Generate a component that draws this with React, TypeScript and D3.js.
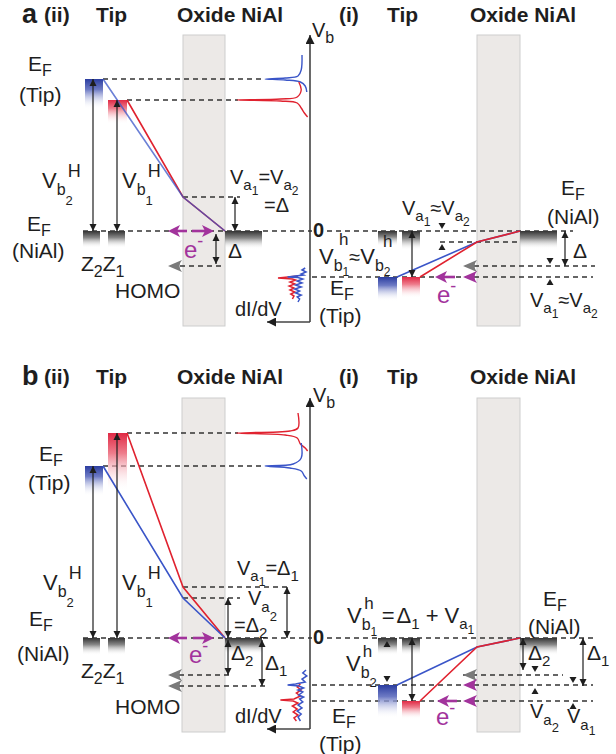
import React from "react";
import * as d3 from "d3";

const W = 616;
const H = 754;
const FONT = "'Liberation Sans', Arial, Helvetica, sans-serif";
const INK = "#1e1e1e";
const BLUE = "#3a55c8";
const RED = "#e0222f";
const MAG = "#a2339c";
const OX = "#ece9e7";

// energies in V, 0 = E_F(NiAl); index 0 = Z2 (blue), index 1 = Z1 (red)
const aTipII = [1.52, 1.31];
const aBendII = [0.34, 0.34];
const aHomo = [-0.35];
const aTipI = [-0.46, -0.46];
const aBendI = [-0.11, -0.11];

const bTipII = [1.72, 2.05];
const bBendII = [0.4, 0.51];
const bHomo = [-0.37, -0.48];
const bTipI = [-0.47, -0.63];
const bBendI = [-0.09, -0.09];

// dI/dV spectra: [energy, dI/dV]
const aSpecBlue = [[1.76, 0.1], [1.61, 0.11], [1.55, 0.15], [1.53, 0.31], [1.52, 0.56], [1.51, 0.31], [1.49, 0.12], [1.45, 0.06], [1.39, 0.04]];
const aSpecRed = [[1.49, 0.14], [1.41, 0.11], [1.34, 0.16], [1.32, 0.37], [1.31, 0.91], [1.3, 0.37], [1.28, 0.16], [1.23, 0.11], [1.18, 0.07], [1.14, 0.03]];
const bSpecRed = [[2.25, 0.15], [2.1, 0.15], [2.07, 0.25], [2.05, 0.92], [2.03, 0.31], [2.0, 0.16], [1.94, 0.12], [1.9, 0.06], [1.87, 0.03]];
const bSpecBlue = [[1.95, 0.11], [1.8, 0.11], [1.74, 0.21], [1.72, 0.56], [1.7, 0.25], [1.67, 0.11], [1.62, 0.07], [1.59, 0.04]];

const aNoiseBlue = [[-0.37, 0.06], [-0.39, 0.1], [-0.41, 0.05], [-0.43, 0.11], [-0.44, 0.08], [-0.45, 0.18], [-0.46, 0.28], [-0.465, 0.15], [-0.48, 0.09], [-0.5, 0.16], [-0.52, 0.1], [-0.54, 0.18], [-0.56, 0.11], [-0.58, 0.19], [-0.6, 0.13], [-0.62, 0.18], [-0.64, 0.11], [-0.66, 0.16], [-0.68, 0.13], [-0.71, 0.15]];
const aNoiseRed = [[-0.45, 0.15], [-0.47, 0.4], [-0.48, 0.22], [-0.49, 0.18], [-0.51, 0.25], [-0.53, 0.19], [-0.55, 0.26], [-0.57, 0.2], [-0.59, 0.25], [-0.61, 0.19], [-0.63, 0.24], [-0.65, 0.2], [-0.68, 0.22]];
const bNoiseBlue = [[-0.32, 0.05], [-0.35, 0.09], [-0.38, 0.04], [-0.41, 0.1], [-0.44, 0.06], [-0.46, 0.18], [-0.47, 0.28], [-0.48, 0.14], [-0.5, 0.08], [-0.52, 0.15], [-0.54, 0.09], [-0.57, 0.14], [-0.59, 0.08], [-0.61, 0.13], [-0.64, 0.09], [-0.67, 0.15], [-0.7, 0.1], [-0.73, 0.16], [-0.76, 0.11], [-0.79, 0.15], [-0.83, 0.12]];
const bNoiseRed = [[-0.46, 0.12], [-0.49, 0.16], [-0.52, 0.11], [-0.55, 0.17], [-0.58, 0.12], [-0.61, 0.2], [-0.62, 0.37], [-0.63, 0.21], [-0.65, 0.15], [-0.68, 0.22], [-0.71, 0.16], [-0.74, 0.21], [-0.77, 0.15], [-0.8, 0.2], [-0.83, 0.17]];

// scales
const yA = d3.scaleLinear().domain([0, 1]).range([231, 131]);
const yB = d3.scaleLinear().domain([0, 1]).range([638, 538]);
const AX = 310;
const xS = d3.scaleLinear().domain([0, 1]).range([AX, AX - 80]);

const smooth = (y: any) =>
  d3.line<number[]>().x((d) => xS(d[1])).y((d) => y(d[0])).curve(d3.curveCatmullRom.alpha(0.5));
const rough = (y: any) => d3.line<number[]>().x((d) => xS(d[1])).y((d) => y(d[0]));
const poly = d3.line();

type Part = [string, number, number, number?];
const N = (t: string, fs = 21, dx = 0): Part => [t, fs, 0, dx];
const S = (t: string, off = 6, fs = 15): Part => [t, fs, off];
const SS = (t: string, off = 12, fs = 12): Part => [t, fs, off];
const SUP = (t: string, dx = 0, off = -11, fs = 17): Part => [t, fs, off, dx];

function F({ x, y, parts, fill = INK }: any) {
  let cur = 0;
  return (
    <text x={x} y={y} fill={fill}>
      {parts.map((p: Part, i: number) => {
        const dy = p[2] - cur;
        cur = p[2];
        return (
          <tspan key={i} fontSize={p[1]} dy={dy} dx={p[3] || 0}>
            {p[0]}
          </tspan>
        );
      })}
    </text>
  );
}

const T = ({ x, y, t, fs = 21, bold = false, fill = INK }: any) => (
  <text x={x} y={y} fontSize={fs} fontWeight={bold ? 700 : 400} fill={fill}>
    {t}
  </text>
);

const Dash = ({ x1, x2, y }: any) => (
  <line x1={x1} x2={x2} y1={y} y2={y} stroke="#333" strokeWidth={1.3} strokeDasharray="5,4" />
);
const DArrow = ({ x, y1, y2 }: any) => (
  <line x1={x} x2={x} y1={y1} y2={y2} stroke={INK} strokeWidth={1.2} markerStart="url(#ah)" markerEnd="url(#ah)" />
);
const Tri = ({ x, y, up }: any) => (
  <path
    d={up ? `M${x - 3.5},${y + 6}L${x + 3.5},${y + 6}L${x},${y}Z` : `M${x - 3.5},${y - 6}L${x + 3.5},${y - 6}L${x},${y}Z`}
    fill={INK}
  />
);
const Peak = ({ x, y, fill }: any) => (
  <path d={`M${x},${y}L${x + 14},${y - 6}Q${x + 9},${y} ${x + 14},${y + 6}Z`} fill={fill} />
);
const MagLeft = ({ x1, x2, y }: any) => (
  <g>
    <line x1={x1 + 6} x2={x2} y1={y} y2={y} stroke={MAG} strokeWidth={2.6} />
    <path d={`M${x1},${y}L${x1 + 12},${y - 6}L${x1 + 9},${y}L${x1 + 12},${y + 6}Z`} fill={MAG} />
  </g>
);
const MagRight = ({ x1, x2, y }: any) => (
  <g>
    <line x1={x1} x2={x2 - 6} y1={y} y2={y} stroke={MAG} strokeWidth={2.6} />
    <path d={`M${x2},${y}L${x2 - 12},${y - 6}L${x2 - 9},${y}L${x2 - 12},${y + 6}Z`} fill={MAG} />
  </g>
);
const Block = ({ x1, x2, y, h, fill }: any) => <rect x={x1} y={y} width={x2 - x1} height={h} fill={fill} />;

function Axis({ top, bottom }: any) {
  return (
    <g>
      <line x1={AX} x2={AX} y1={bottom} y2={top} stroke="#444" strokeWidth={1.6} markerEnd="url(#ax)" />
      <line x1={AX} x2={267} y1={bottom} y2={bottom} stroke="#444" strokeWidth={1.6} markerEnd="url(#ax)" />
    </g>
  );
}

function Headers({ y, letter }: any) {
  return (
    <g>
      <T x={22} y={y + 1} t={letter} fs={27} bold />
      <T x={44} y={y} t="(ii)" fs={21} bold />
      <T x={96} y={y} t="Tip" fs={21} bold />
      <T x={177} y={y} t="Oxide NiAl" fs={21} bold />
      <T x={339} y={y} t="(i)" fs={21} bold />
      <T x={387} y={y} t="Tip" fs={21} bold />
      <T x={470} y={y} t="Oxide NiAl" fs={21} bold />
    </g>
  );
}

function PanelA() {
  const y = yA;
  const z = y(0);
  return (
    <g>
      <Headers y={22} letter="a" />
      <rect x={183} y={35} width={42} height={291} fill={OX} stroke="#cdcdcd" />
      <rect x={477} y={35} width={43} height={291} fill={OX} stroke="#cdcdcd" />
      <Axis top={35} bottom={322} />
      <F x={312} y={37} parts={[N("V", 20), S("b", 6, 16)]} />

      {/* (ii) */}
      <Dash x1={103} x2={265} y={y(aTipII[0])} />
      <Dash x1={127} x2={238} y={y(aTipII[1])} />
      <Dash x1={183} x2={240} y={y(aBendII[0])} />
      <Dash x1={83} x2={312} y={z} />
      <Dash x1={180} x2={225} y={y(aHomo[0])} />
      <Block x1={85} x2={103} y={y(aTipII[0])} h={30} fill="url(#gBlue)" />
      <Block x1={108} x2={127} y={y(aTipII[1])} h={24} fill="url(#gRed)" />
      <Block x1={83} x2={100} y={z} h={17} fill="url(#gGray)" />
      <Block x1={108} x2={125} y={z} h={17} fill="url(#gGray)" />
      <Block x1={225} x2={262} y={z} h={18} fill="url(#gGray)" />
      <path d={poly([[127, y(aTipII[1])], [183, y(aBendII[1])], [225, z]]) || ""} fill="none" stroke={RED} strokeWidth={1.6} />
      <path d={poly([[103, y(aTipII[0])], [183, y(aBendII[0])], [225, z]]) || ""} fill="none" stroke={BLUE} strokeWidth={1.6} strokeOpacity={0.75} />
      <DArrow x={93} y1={y(aTipII[0])} y2={z} />
      <DArrow x={117} y1={y(aTipII[1])} y2={z} />
      <DArrow x={235} y1={y(aBendII[0])} y2={z} />
      <DArrow x={216} y1={z + 3} y2={y(aHomo[0]) - 2} />
      <Peak x={168} y={y(aHomo[0])} fill="#7a7a7a" />
      <MagLeft x1={168} x2={187} y={z} />
      <MagRight x1={192} x2={214} y={z} />
      <path d={smooth(y)(aSpecBlue) || ""} fill="none" stroke={BLUE} strokeWidth={1.4} />
      <path d={smooth(y)(aSpecRed) || ""} fill="none" stroke={RED} strokeWidth={1.4} />
      <path d={rough(y)(aNoiseRed) || ""} fill="none" stroke={RED} strokeWidth={1.5} />
      <path d={rough(y)(aNoiseBlue) || ""} fill="none" stroke={BLUE} strokeWidth={1.5} />

      <F x={28} y={71} parts={[N("E", 21), S("F", 5, 16)]} />
      <T x={19} y={102} t="(Tip)" />
      <F x={42} y={188} parts={[N("V", 22), S("b", 7, 16), SS("2", 17, 13), SUP("H", -5, -11, 18)]} />
      <F x={122} y={188} parts={[N("V", 22), S("b", 7, 16), SS("1", 17, 13), SUP("H", -5, -11, 18)]} />
      <F x={230} y={184} parts={[N("V", 20), S("a", 6, 15), SS("1", 11, 12), N("=", 20), N("V", 20), S("a", 6, 15), SS("2", 11, 12)]} />
      <T x={264} y={212} t="=Δ" fs={20} />
      <F x={27} y={231} parts={[N("E", 21), S("F", 5, 16)]} />
      <T x={12} y={258} t="(NiAl)" />
      <F x={81} y={271} parts={[N("Z", 21), S("2", 6, 16), N("Z", 21), S("1", 6, 16)]} />
      <T x={115} y={298} t="HOMO" />
      <F x={184} y={258} fill={MAG} parts={[N("e", 24), SUP("-", 0, -11, 18)]} />
      <T x={228} y={258} t="Δ" />
      <T x={235} y={316} t="dI/dV" fs={20} />
      <T x={313} y={237} t="0" fs={20} bold />

      {/* (i) */}
      <Dash x1={327} x2={573} y={z} />
      <Dash x1={440} x2={520} y={y(aBendI[0])} />
      <Dash x1={465} x2={595} y={y(aHomo[0])} />
      <Dash x1={312} x2={593} y={y(aTipI[0])} />
      <Block x1={378} x2={397} y={z} h={15} fill="url(#gGray)" />
      <Block x1={402} x2={420} y={z} h={19} fill="url(#gGray)" />
      <Block x1={378} x2={397} y={y(aTipI[0])} h={24} fill="url(#gBlue)" />
      <Block x1={402} x2={420} y={y(aTipI[1])} h={21} fill="url(#gRed)" />
      <Block x1={520} x2={557} y={z} h={18} fill="url(#gGray)" />
      <path d={poly([[397, y(aTipI[0])], [477, y(aBendI[0])], [520, z]]) || ""} fill="none" stroke={BLUE} strokeWidth={1.6} />
      <path d={poly([[420, y(aTipI[1])], [477, y(aBendI[1])], [520, z]]) || ""} fill="none" stroke={RED} strokeWidth={1.6} />
      <DArrow x={412} y1={z} y2={y(aTipI[1])} />
      <DArrow x={565} y1={z} y2={y(aHomo[0])} />
      <Tri x={442} y={z - 2} />
      <Tri x={442} y={y(aBendI[0]) + 2} up />
      <Tri x={550} y={y(aHomo[0]) - 2} />
      <Tri x={550} y={y(aTipI[0]) + 2} up />
      <Peak x={463} y={y(aHomo[0])} fill="#7a7a7a" />
      <Peak x={463} y={y(aTipI[0])} fill={MAG} />
      <MagLeft x1={435} x2={455} y={y(aTipI[0])} />

      <F x={402} y={215} parts={[N("V", 20), S("a", 6, 15), SS("1", 11, 12), N("≈", 20), N("V", 20), S("a", 6, 15), SS("2", 11, 12)]} />
      <T x={339} y={245} t="h" fs={17} />
      <T x={383} y={247} t="h" fs={17} />
      <F x={319} y={264} parts={[N("V", 22), S("b", 7, 16), SS("1", 12, 12), N("≈", 20), N("V", 22), S("b", 7, 16), SS("2", 12, 12)]} />
      <F x={330} y={295} parts={[N("E", 21), S("F", 5, 16)]} />
      <T x={319} y={323} t="(Tip)" />
      <F x={437} y={303} fill={MAG} parts={[N("e", 24), SUP("-", 0, -11, 18)]} />
      <F x={561} y={195} parts={[N("E", 21), S("F", 5, 16)]} />
      <T x={547} y={224} t="(NiAl)" />
      <T x={573} y={258} t="Δ" />
      <F x={530} y={307} parts={[N("V", 20), S("a", 6, 15), SS("1", 11, 12), N("≈", 20), N("V", 20), S("a", 6, 15), SS("2", 11, 12)]} />
    </g>
  );
}

function PanelB() {
  const y = yB;
  const z = y(0);
  return (
    <g>
      <Headers y={384} letter="b" />
      <rect x={182} y={398} width={43} height={334} fill={OX} stroke="#cdcdcd" />
      <rect x={477} y={398} width={43} height={334} fill={OX} stroke="#cdcdcd" />
      <Axis top={398} bottom={729} />
      <F x={313} y={402} parts={[N("V", 20), S("b", 6, 16)]} />

      {/* (ii) */}
      <Dash x1={127} x2={238} y={y(bTipII[1])} />
      <Dash x1={103} x2={265} y={y(bTipII[0])} />
      <Dash x1={183} x2={287} y={y(bBendII[1])} />
      <Dash x1={183} x2={240} y={y(bBendII[0])} />
      <Dash x1={83} x2={312} y={z} />
      <Dash x1={170} x2={230} y={y(bHomo[0])} />
      <Dash x1={170} x2={268} y={y(bHomo[1])} />
      <Block x1={85} x2={103} y={y(bTipII[0])} h={30} fill="url(#gBlue)" />
      <Block x1={108} x2={127} y={y(bTipII[1])} h={58} fill="url(#gRed)" />
      <Block x1={83} x2={100} y={z} h={17} fill="url(#gGray)" />
      <Block x1={108} x2={125} y={z} h={17} fill="url(#gGray)" />
      <Block x1={225} x2={262} y={z} h={16} fill="url(#gGray)" />
      <path d={poly([[127, y(bTipII[1])], [183, y(bBendII[1])], [225, z]]) || ""} fill="none" stroke={RED} strokeWidth={1.6} />
      <path d={poly([[103, y(bTipII[0])], [183, y(bBendII[0])], [225, z]]) || ""} fill="none" stroke={BLUE} strokeWidth={1.6} />
      <DArrow x={93} y1={y(bTipII[0])} y2={z} />
      <DArrow x={117} y1={y(bTipII[1])} y2={z} />
      <DArrow x={228} y1={y(bBendII[0])} y2={z} />
      <DArrow x={287} y1={y(bBendII[1])} y2={z} />
      <DArrow x={228} y1={z + 2} y2={y(bHomo[0])} />
      <DArrow x={262} y1={z + 2} y2={y(bHomo[1])} />
      <Peak x={168} y={y(bHomo[0])} fill="#7a7a7a" />
      <Peak x={168} y={y(bHomo[1])} fill="#7a7a7a" />
      <MagLeft x1={168} x2={187} y={z} />
      <MagRight x1={193} x2={214} y={z} />
      <path d={smooth(y)(bSpecRed) || ""} fill="none" stroke={RED} strokeWidth={1.4} />
      <path d={smooth(y)(bSpecBlue) || ""} fill="none" stroke={BLUE} strokeWidth={1.4} />
      <path d={rough(y)(bNoiseRed) || ""} fill="none" stroke={RED} strokeWidth={1.5} />
      <path d={rough(y)(bNoiseBlue) || ""} fill="none" stroke={BLUE} strokeWidth={1.5} />

      <F x={39} y={461} parts={[N("E", 21), S("F", 5, 16)]} />
      <T x={28} y={490} t="(Tip)" />
      <F x={43} y={590} parts={[N("V", 22), S("b", 7, 16), SS("2", 17, 13), SUP("H", -5, -11, 18)]} />
      <F x={122} y={590} parts={[N("V", 22), S("b", 7, 16), SS("1", 17, 13), SUP("H", -5, -11, 18)]} />
      <F x={237} y={575} parts={[N("V", 20), S("a", 6, 15), SS("1", 11, 12), N("=", 20), N("Δ", 20), S("1", 6, 15)]} />
      <F x={248} y={605} parts={[N("V", 20), S("a", 7, 15), SS("2", 16, 13)]} />
      <F x={234} y={632} parts={[N("=Δ", 20), S("2", 6, 15)]} />
      <F x={29} y={626} parts={[N("E", 21), S("F", 5, 16)]} />
      <T x={17} y={661} t="(NiAl)" />
      <F x={81} y={678} parts={[N("Z", 21), S("2", 6, 16), N("Z", 21), S("1", 6, 16)]} />
      <T x={115} y={714} t="HOMO" />
      <F x={189} y={663} fill={MAG} parts={[N("e", 24), SUP("-", 0, -11, 18)]} />
      <F x={231} y={660} parts={[N("Δ", 21), S("2", 6, 15)]} />
      <F x={265} y={670} parts={[N("Δ", 21), S("1", 6, 15)]} />
      <T x={235} y={723} t="dI/dV" fs={20} />
      <T x={313} y={644} t="0" fs={20} bold />

      {/* (i) */}
      <Dash x1={327} x2={595} y={z} />
      <Dash x1={463} x2={563} y={y(bHomo[0])} />
      <Dash x1={312} x2={593} y={y(bTipI[0])} />
      <Dash x1={312} x2={593} y={y(bTipI[1])} />
      <Block x1={378} x2={397} y={z} h={17} fill="url(#gGray)" />
      <Block x1={402} x2={420} y={z} h={17} fill="url(#gGray)" />
      <Block x1={378} x2={397} y={y(bTipI[0])} h={33} fill="url(#gBlue)" />
      <Block x1={402} x2={420} y={y(bTipI[1])} h={18} fill="url(#gRed)" />
      <Block x1={520} x2={557} y={z} h={17} fill="url(#gGray)" />
      <path d={poly([[397, y(bTipI[0])], [477, y(bBendI[0])], [520, z]]) || ""} fill="none" stroke={BLUE} strokeWidth={1.6} />
      <path d={poly([[420, y(bTipI[1])], [477, y(bBendI[1])], [520, z]]) || ""} fill="none" stroke={RED} strokeWidth={1.6} />
      <DArrow x={412} y1={z} y2={y(bTipI[1])} />
      <DArrow x={523} y1={z} y2={y(bHomo[0]) - 5} />
      <DArrow x={583} y1={z} y2={y(bHomo[1])} />
      <Tri x={387} y={z + 3} up />
      <Tri x={387} y={y(bTipI[0]) - 3} />
      <Tri x={535} y={y(bHomo[0]) - 3} />
      <Tri x={573} y={y(bHomo[1]) - 3} />
      <Tri x={535} y={y(bTipI[0]) + 3} up />
      <Tri x={573} y={y(bTipI[1]) + 2} up />
      <Peak x={463} y={y(bHomo[0])} fill="#7a7a7a" />
      <Peak x={463} y={y(bTipI[0])} fill={MAG} />
      <Peak x={463} y={y(bTipI[1])} fill={MAG} />
      <MagLeft x1={437} x2={457} y={y(bTipI[1])} />

      <F x={347} y={623} parts={[N("V", 22), S("b", 7, 16), SS("1", 13, 12), SUP("h", -13, -14, 17), N("=", 22, 8), N("Δ", 22, 2), S("1", 6, 15), N("+", 22, 6), N("V", 22, 6), S("a", 6, 15), SS("1", 11, 12)]} />
      <F x={346} y={671} parts={[N("V", 22), S("b", 7, 16), SS("2", 16, 13), SUP("h", -14, -14, 17)]} />
      <F x={543} y={606} parts={[N("E", 21), S("F", 5, 16)]} />
      <T x={528} y={634} t="(NiAl)" />
      <F x={528} y={660} parts={[N("Δ", 21), S("2", 6, 15)]} />
      <F x={587} y={660} parts={[N("Δ", 21), S("1", 6, 15)]} />
      <F x={530} y={718} parts={[N("V", 20), S("a", 7, 15), SS("2", 14, 13)]} />
      <F x={567} y={723} parts={[N("V", 20), S("a", 7, 15), SS("1", 12, 12)]} />
      <F x={436} y={725} fill={MAG} parts={[N("e", 24), SUP("-", 0, -11, 18)]} />
      <F x={332} y={723} parts={[N("E", 21), S("F", 5, 16)]} />
      <T x={319} y={751} t="(Tip)" />
    </g>
  );
}

export default function App() {
  return (
    <svg
      width={W}
      height={H}
      viewBox={`0 0 ${W} ${H}`}
      fontFamily={FONT}
      style={{ position: "absolute", left: 0, top: 0, background: "#fff" }}
    >
      <defs>
        <marker id="ah" viewBox="0 0 10 10" refX="10" refY="5" markerWidth="7" markerHeight="8" markerUnits="userSpaceOnUse" orient="auto-start-reverse">
          <path d="M0,0L10,5L0,10Z" fill={INK} />
        </marker>
        <marker id="ax" viewBox="0 0 10 10" refX="10" refY="5" markerWidth="9" markerHeight="9" markerUnits="userSpaceOnUse" orient="auto">
          <path d="M0,0L10,5L0,10Z" fill={INK} />
        </marker>
        <linearGradient id="gBlue" x1="0" x2="0" y1="0" y2="1">
          <stop offset="0" stopColor="#2b3da0" />
          <stop offset="0.35" stopColor="#6d7ac4" />
          <stop offset="1" stopColor="#ffffff" stopOpacity="0" />
        </linearGradient>
        <linearGradient id="gRed" x1="0" x2="0" y1="0" y2="1">
          <stop offset="0" stopColor="#e02a45" />
          <stop offset="0.35" stopColor="#ee7d8c" />
          <stop offset="1" stopColor="#ffffff" stopOpacity="0" />
        </linearGradient>
        <linearGradient id="gGray" x1="0" x2="0" y1="0" y2="1">
          <stop offset="0" stopColor="#333" />
          <stop offset="0.4" stopColor="#8a8a8a" />
          <stop offset="1" stopColor="#ffffff" stopOpacity="0" />
        </linearGradient>
      </defs>
      <rect width={W} height={H} fill="#fff" />
      <PanelA />
      <PanelB />
    </svg>
  );
}
